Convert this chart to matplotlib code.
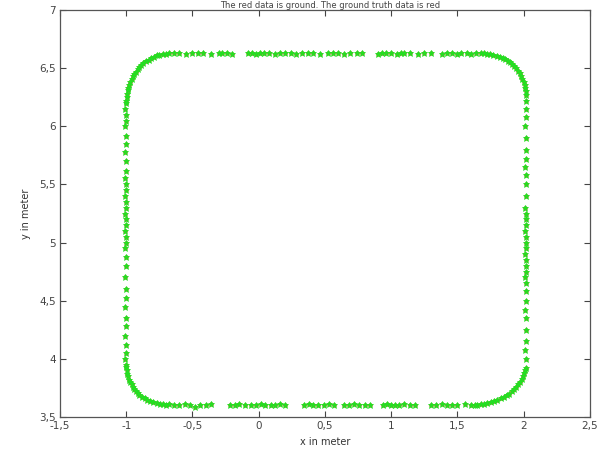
import matplotlib
matplotlib.use("Agg")
import matplotlib.pyplot as plt
import numpy as np

title = "The red data is ground. The ground truth data is red"
xlabel = "x in meter"
ylabel = "y in meter"

xticks = [-1.5, -1.0, -0.5, 0.0, 0.5, 1.0, 1.5, 2.0, 2.5]
xticklabels = ["-1,5", "-1", "-0,5", "0", "0,5", "1", "1,5", "2", "2,5"]
yticks = [3.5, 4.0, 4.5, 5.0, 5.5, 6.0, 6.5, 7.0]
yticklabels = ["3,5", "4", "4,5", "5", "5,5", "6", "6,5", "7"]

# bottom edge
bottom_x = [-0.68, -0.64, -0.6, -0.56, -0.52, -0.48, -0.44, -0.4, -0.36,
            -0.22, -0.18, -0.15, -0.1, -0.06, -0.02, 0.02, 0.05, 0.09, 0.12, 0.16, 0.2,
            0.34, 0.38, 0.41, 0.45, 0.49, 0.53, 0.57,
            0.64, 0.68, 0.72, 0.76, 0.8, 0.84,
            0.94, 0.97, 1.0, 1.03, 1.06, 1.1, 1.14, 1.18,
            1.3, 1.34, 1.38, 1.42, 1.46, 1.5, 1.56, 1.6]
bottom_y = [3.61, 3.6, 3.6, 3.61, 3.6, 3.59, 3.6, 3.6, 3.61,
            3.6, 3.6, 3.61, 3.6, 3.6, 3.6, 3.61, 3.6, 3.6, 3.6, 3.61, 3.6,
            3.6, 3.61, 3.6, 3.6, 3.6, 3.61, 3.6,
            3.6, 3.6, 3.61, 3.6, 3.6, 3.6,
            3.6, 3.61, 3.6, 3.6, 3.6, 3.61, 3.6, 3.6,
            3.6, 3.6, 3.61, 3.6, 3.6, 3.6, 3.61, 3.6]

# top edge
top_x = [-0.64, -0.6, -0.55, -0.5, -0.46, -0.42, -0.36, -0.3, -0.28, -0.24, -0.2,
         -0.08, -0.05, -0.02, 0.01, 0.04, 0.08, 0.12, 0.16, 0.2, 0.24, 0.28, 0.33, 0.37, 0.41,
         0.46, 0.52, 0.56, 0.6, 0.64, 0.69, 0.74, 0.78,
         0.9, 0.93, 0.96, 1.0, 1.04, 1.07, 1.1, 1.14, 1.2, 1.25, 1.3,
         1.38, 1.42, 1.46, 1.5, 1.53, 1.57, 1.6, 1.64, 1.68]
top_y = [6.63, 6.63, 6.62, 6.63, 6.63, 6.63, 6.62, 6.63, 6.63, 6.63, 6.62,
         6.63, 6.63, 6.62, 6.63, 6.63, 6.63, 6.62, 6.63, 6.63, 6.63, 6.62, 6.63, 6.63, 6.63,
         6.62, 6.63, 6.63, 6.63, 6.62, 6.63, 6.63, 6.63,
         6.62, 6.63, 6.63, 6.63, 6.62, 6.63, 6.63, 6.63, 6.62, 6.63, 6.63,
         6.62, 6.63, 6.63, 6.62, 6.63, 6.63, 6.62, 6.63, 6.63]

# left edge
left_y = [3.95, 4.0, 4.05, 4.12, 4.2, 4.28, 4.35, 4.45, 4.52, 4.6, 4.7, 4.8, 4.88,
          4.95, 5.0, 5.05, 5.1, 5.15, 5.2, 5.25, 5.3, 5.35, 5.4, 5.45, 5.5, 5.56,
          5.62, 5.7, 5.78, 5.85, 5.92, 6.0, 6.05, 6.1, 6.15, 6.2]
left_x = [-1.0, -1.01, -1.0, -1.0, -1.01, -1.0, -1.0, -1.01, -1.0, -1.0, -1.01, -1.0, -1.0,
          -1.01, -1.0, -1.0, -1.01, -1.0, -1.0, -1.01, -1.0, -1.0, -1.01, -1.0, -1.0, -1.01,
          -1.0, -1.0, -1.01, -1.0, -1.0, -1.01, -1.0, -1.0, -1.01, -1.0]

# right edge
right_y = [3.92, 4.0, 4.08, 4.15, 4.25, 4.35, 4.42, 4.5, 4.58, 4.65, 4.7, 4.75, 4.8,
           4.85, 4.9, 4.95, 5.0, 5.05, 5.1, 5.15, 5.2, 5.25, 5.3, 5.4, 5.5, 5.58,
           5.65, 5.72, 5.8, 5.9, 6.0, 6.08, 6.15, 6.22]
right_x = [2.02, 2.02, 2.01, 2.02, 2.02, 2.02, 2.01, 2.02, 2.02, 2.02, 2.01, 2.02, 2.02,
           2.02, 2.01, 2.02, 2.02, 2.02, 2.01, 2.02, 2.02, 2.02, 2.01, 2.02, 2.02, 2.02,
           2.01, 2.02, 2.02, 2.02, 2.01, 2.02, 2.02, 2.02]

# corners
tl_x = [-1.0, -0.998, -0.995, -0.99, -0.985, -0.978, -0.97, -0.96, -0.95, -0.94, -0.93, -0.915,
        -0.9, -0.885, -0.87, -0.85, -0.83, -0.81, -0.79, -0.77, -0.75, -0.725, -0.7, -0.675]
tl_y = [6.22, 6.25, 6.28, 6.31, 6.33, 6.36, 6.38, 6.41, 6.43, 6.45, 6.47, 6.49,
        6.51, 6.53, 6.545, 6.56, 6.575, 6.59, 6.6, 6.61, 6.615, 6.62, 6.625, 6.63]

bl_x = [-1.0, -0.997, -0.993, -0.985, -0.978, -0.97, -0.96, -0.95, -0.94, -0.93, -0.915,
        -0.9, -0.88, -0.86, -0.84, -0.82, -0.795, -0.77, -0.745, -0.72, -0.7]
bl_y = [3.93, 3.9, 3.87, 3.85, 3.82, 3.8, 3.78, 3.76, 3.74, 3.72, 3.705,
        3.69, 3.675, 3.66, 3.65, 3.64, 3.63, 3.62, 3.615, 3.61, 3.605]

br_x = [1.63, 1.65, 1.675, 1.7, 1.725, 1.75, 1.775, 1.8, 1.825, 1.85, 1.87, 1.89,
        1.91, 1.93, 1.945, 1.96, 1.972, 1.985, 1.995, 2.005, 2.012]
br_y = [3.6, 3.605, 3.61, 3.615, 3.622, 3.63, 3.64, 3.65, 3.662, 3.675, 3.688, 3.7,
        3.72, 3.74, 3.76, 3.78, 3.805, 3.83, 3.85, 3.875, 3.9]

tr_x = [1.7, 1.72, 1.745, 1.77, 1.795, 1.82, 1.84, 1.86, 1.88, 1.9, 1.915, 1.93,
        1.945, 1.96, 1.97, 1.98, 1.99, 2.0, 2.006, 2.01, 2.015, 2.018]
tr_y = [6.63, 6.625, 6.62, 6.615, 6.607, 6.6, 6.59, 6.58, 6.565, 6.55, 6.535, 6.52,
        6.5, 6.48, 6.455, 6.43, 6.405, 6.38, 6.355, 6.33, 6.3, 6.27]

xs = np.array(bottom_x + top_x + left_x + right_x + tl_x + bl_x + br_x + tr_x)
ys = np.array(bottom_y + top_y + left_y + right_y + tl_y + bl_y + br_y + tr_y)

fig = plt.figure(figsize=(6.0, 4.59), dpi=100)
ax = fig.add_axes([0.1, 0.0915, 0.8833, 0.8865])

ax.plot(xs, ys, linestyle="none", marker="o", markersize=3.2, color="#b5651d",
        markeredgewidth=0, zorder=2)
ax.plot(xs, ys, linestyle="none", marker="*", markersize=5, color="#22e022",
        markeredgewidth=0.6, zorder=3)

ax.set_xlim(-1.5, 2.5)
ax.set_ylim(3.5, 7.0)
ax.set_xticks(xticks)
ax.set_xticklabels(xticklabels)
ax.set_yticks(yticks)
ax.set_yticklabels(yticklabels)
ax.tick_params(direction="in", length=4, width=0.8, top=True, right=True,
               labelsize=7.5, colors="#444444", pad=3)
for s in ax.spines.values():
    s.set_color("#555555")
    s.set_linewidth(0.9)

ax.set_xlabel(xlabel, fontsize=7, color="#333333", labelpad=4)
ax.set_ylabel(ylabel, fontsize=7, color="#333333", labelpad=6)

fig.text(0.55, 0.998, title, ha="center", va="top", fontsize=6, color="#444444")

fig.savefig("out.png", dpi=100)
